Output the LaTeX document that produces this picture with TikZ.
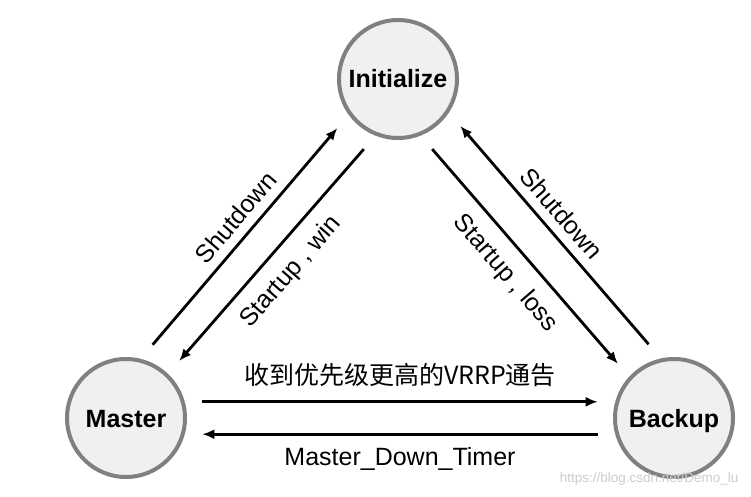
\documentclass[tikz,border=0pt]{standalone}
\usepackage{fontspec}
\setmainfont{Liberation Sans}
\newfontfamily\cjk{Noto Sans CJK SC}
\usepackage{tikz}
\usetikzlibrary{arrows.meta}

\definecolor{ringgray}{RGB}{128,128,128}
\definecolor{ringfill}{RGB}{240,240,240}
\tikzset{
  vstate/.style={circle, draw=ringgray, fill=ringfill, line width=4pt,
    minimum size=118pt, inner sep=0pt, outer sep=19pt,
    text height=18pt, text depth=0pt,
    font=\fontsize{25}{30}\selectfont\bfseries},
  trans/.style={line width=2.8pt, -{Latex[length=12pt,width=10pt]}},
  lbl/.style={font=\fontsize{25}{30}\selectfont, inner sep=0pt}
}

\begin{document}
\begin{tikzpicture}[x=1pt,y=-1pt]
  \useasboundingbox (0,0) rectangle (751,497);

  % Define nodes
  \node[vstate] (init)   at (398,79)  {Initialize};
  \node[vstate] (master) at (126,418) {Master};
  \node[vstate] (backup) at (674,418) {Backup};

  % Connect the nodes
  \draw[trans] (master.70)  -- node[lbl, sloped, above=9pt, pos=0.53]  {Shutdown} (init.219) ;
  \draw[trans] (init.244)   -- node[lbl, sloped, below=13pt, pos=0.5]  {Startup , win} (master.47) ;
  \draw[trans] (init.296)   -- node[lbl, sloped, below=13pt, pos=0.5]  {Startup , loss} (backup.136) ;
  \draw[trans] (backup.109) -- node[lbl, sloped, above=9pt, pos=0.54]  {Shutdown} (init.323) ;
  \draw[trans] (master.12)  -- node[lbl, above=14pt] {\cjk 收到优先级更高的VRRP通告} (backup.168) ;
  \draw[trans] (backup.192) -- node[lbl, below=12pt] {Master\_Down\_Timer} (master.348) ;

  \node[anchor=east, text=black!20, font=\fontsize{13.5}{16}\selectfont] (mark) at (742,479) {https://blog.csdn.net/Demo\_lu};

\end{tikzpicture}
\end{document}
